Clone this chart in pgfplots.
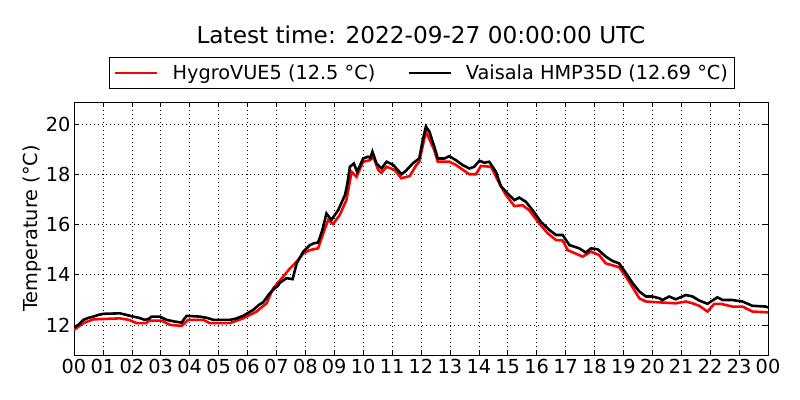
\documentclass[border=0pt]{standalone}
\usepackage{pgfplots}
\pgfplotsset{compat=1.18}
\usepackage{fontspec}
\setmainfont{DejaVu Sans}
\pgfplotstableread{
h t
0 11.8
0.32 12.07
0.67 12.22
1.59 12.26
1.9 12.2
2.17 12.07
2.5 12.07
2.6 12.17
3.03 12.17
3.32 12.0
3.72 11.96
3.95 12.2
4.47 12.2
4.7 12.07
5.39 12.07
5.85 12.26
6.31 12.53
6.66 12.86
6.89 13.46
7.23 13.92
7.47 14.25
7.7 14.52
7.93 14.85
8.16 14.98
8.44 15.05
8.62 15.65
8.79 16.18
8.96 16.02
9.19 16.38
9.42 16.97
9.6 18.1
9.77 17.9
10.0 18.5
10.23 18.56
10.35 18.7
10.52 18.17
10.63 18.06
10.81 18.3
11.09 18.17
11.32 17.84
11.61 17.93
11.84 18.37
11.94 18.5
12.17 19.7
12.46 18.96
12.58 18.5
12.98 18.5
13.21 18.37
13.67 18.0
13.9 18.0
14.07 18.33
14.42 18.3
14.71 17.64
14.94 17.17
15.23 16.73
15.51 16.77
15.74 16.57
16.09 16.04
16.38 15.65
16.67 15.38
16.9 15.36
17.07 14.98
17.59 14.72
17.88 14.92
18.16 14.78
18.39 14.45
18.85 14.3
19.09 13.92
19.55 13.06
19.78 12.93
20.35 12.89
20.81 12.86
21.16 12.93
21.39 12.86
21.62 12.76
21.91 12.53
22.14 12.84
22.37 12.84
22.77 12.73
23.12 12.73
23.46 12.53
24 12.5
}\hygro
\pgfplotstableread{
h t
0 11.9
0.15 12.0
0.32 12.2
0.5 12.28
0.67 12.33
0.85 12.4
1.01 12.44
1.3 12.45
1.59 12.46
1.8 12.4
2.05 12.33
2.25 12.28
2.45 12.2
2.6 12.25
2.68 12.33
2.97 12.33
3.2 12.2
3.45 12.14
3.72 12.09
3.82 12.25
3.9 12.36
4.35 12.33
4.6 12.28
4.82 12.2
5.1 12.2
5.39 12.2
5.6 12.25
5.85 12.36
6.2 12.6
6.4 12.8
6.54 12.9
6.77 13.26
6.94 13.46
7.05 13.55
7.12 13.68
7.35 13.86
7.56 13.82
7.7 14.45
7.93 14.92
8.16 15.18
8.3 15.25
8.44 15.28
8.59 15.78
8.73 16.44
8.9 16.18
9.14 16.58
9.37 17.17
9.45 17.6
9.54 18.3
9.68 18.43
9.79 18.1
10.0 18.63
10.17 18.7
10.25 18.65
10.32 18.9
10.46 18.43
10.63 18.23
10.81 18.5
11.04 18.37
11.33 18.0
11.48 18.14
11.71 18.43
11.94 18.63
12.06 19.36
12.17 19.9
12.29 19.7
12.46 19.1
12.58 18.63
12.81 18.63
12.98 18.72
13.21 18.56
13.44 18.37
13.67 18.23
13.84 18.3
14.02 18.54
14.19 18.46
14.36 18.5
14.59 18.1
14.76 17.53
14.99 17.24
15.23 16.97
15.4 17.07
15.63 16.9
15.86 16.57
16.15 16.1
16.44 15.78
16.67 15.58
16.9 15.58
17.13 15.18
17.47 15.05
17.7 14.88
17.88 15.05
18.11 15.01
18.39 14.72
18.62 14.55
18.85 14.45
19.09 14.06
19.32 13.66
19.55 13.33
19.78 13.13
20.0 13.13
20.24 13.06
20.35 12.99
20.58 13.13
20.81 13.02
21.16 13.19
21.39 13.13
21.62 12.97
21.91 12.84
22.25 13.1
22.43 12.99
22.77 12.99
23.12 12.93
23.46 12.76
23.92 12.73
24.0 12.69
}\vaisala
\begin{document}
\begin{tikzpicture}
\path[use as bounding box] (0,0) rectangle (800bp,400bp);
\node[font=\fontsize{23.2bp}{26bp}\selectfont] at (421bp,365bp) {Latest time: 2022-09-27 00:00:00 UTC};
\begin{axis}[
  at={(74bp,45bp)}, anchor=south west,
  scale only axis, width=694bp, height=253bp,
  xmin=0, xmax=24, ymin=10.8, ymax=20.88,
  xtick={0,1,...,24},
  xticklabels={00,01,02,03,04,05,06,07,08,09,10,11,12,13,14,15,16,17,18,19,20,21,22,23,00},
  ytick={12,14,16,18,20},
  tick align=inside, major tick length=5bp,
  tick style={black, line width=0.6pt},
  grid=major, grid style={black, dash pattern=on 1bp off 3bp, line width=0.6pt},
  axis line style={black, line width=0.9pt},
  /pgf/number format/assume math mode=true,
  ticklabel style={font=\fontsize{19.3bp}{22bp}\selectfont},
  xticklabel style={yshift=-1bp},
  ylabel={Temperature (°C)},
  ylabel style={font=\fontsize{19.3bp}{22bp}\selectfont, yshift=-2bp},
  legend columns=2,
  legend style={at={(0.5014,1.115)}, anchor=center, draw=black, line width=0.9pt,
    font=\fontsize{19.3bp}{22bp}\selectfont, inner xsep=4.5bp, inner ysep=5bp,
    /tikz/every odd column/.append style={column sep=12bp},
    /tikz/every even column/.append style={column sep=30bp}},
  legend image code/.code={\draw[#1, line width=2.6pt] (0bp,0bp) -- (42bp,0bp);},
  legend cell align=left,
]
\addplot[red, line width=2.6pt, no marks] table[x=h, y=t] {\hygro};
\addlegendentry{HygroVUE5 (12.5 °C)}
\addplot[black, line width=2.6pt, no marks] table[x=h, y=t] {\vaisala};
\addlegendentry{Vaisala HMP35D (12.69 °C)}
\end{axis}
\end{tikzpicture}
\end{document}
